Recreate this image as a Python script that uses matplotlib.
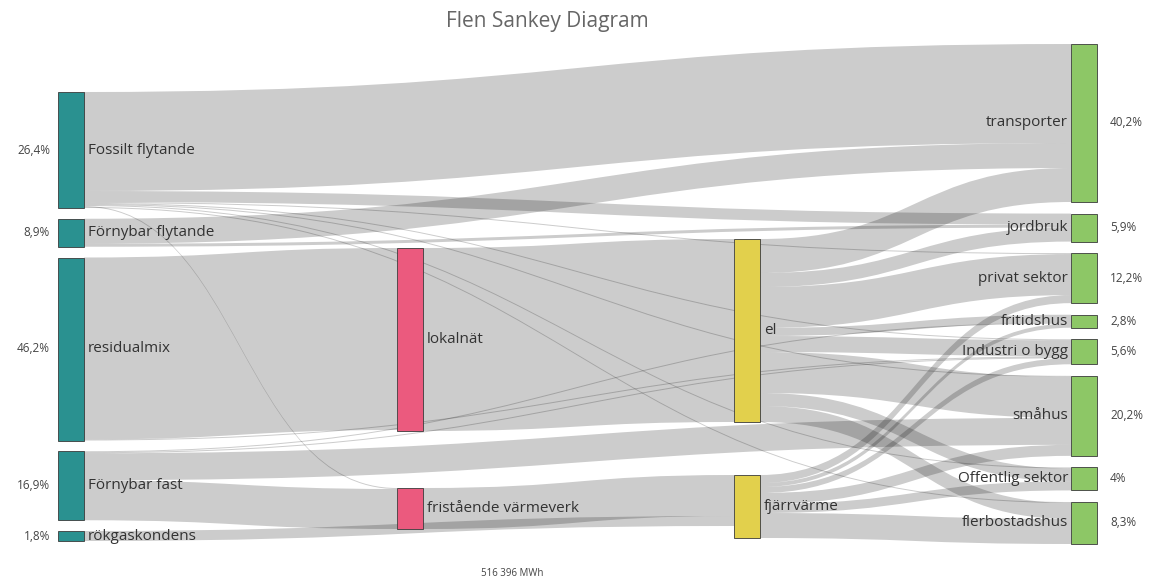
import matplotlib.pyplot as plt
from matplotlib.path import Path
from matplotlib.patches import PathPatch, Rectangle

plt.rcParams['font.family'] = ['Open Sans', 'DejaVu Sans']

# Nodes (name, column)
nodes = ['Fossilt flytande', 'Förnybar flytande', 'residualmix', 'Förnybar fast', 'rökgaskondens',
         'lokalnät', 'fristående värmeverk',
         'el', 'fjärrvärme',
         'transporter', 'jordbruk', 'privat sektor', 'fritidshus', 'Industri o bygg',
         'småhus', 'Offentlig sektor', 'flerbostadshus']
node_col = [0, 0, 0, 0, 0, 1, 1, 2, 2, 3, 3, 3, 3, 3, 3, 3, 3]

# share labels shown next to the outer columns
shares = {'Fossilt flytande': '26,4%', 'Förnybar flytande': '8,9%', 'residualmix': '46,2%',
          'Förnybar fast': '16,9%', 'rökgaskondens': '1,8%',
          'transporter': '40,2%', 'jordbruk': '5,9%', 'privat sektor': '12,2%',
          'fritidshus': '2,8%', 'Industri o bygg': '5,6%', 'småhus': '20,2%',
          'Offentlig sektor': '4%', 'flerbostadshus': '8,3%'}

sources = ['Fossilt flytande'] * 8 + ['Förnybar flytande'] * 2 + ['residualmix'] * 2 + \
          ['Förnybar fast'] * 4 + ['rökgaskondens', 'lokalnät', 'fristående värmeverk'] + \
          ['el'] * 8 + ['fjärrvärme'] * 6
targets = ['transporter', 'jordbruk', 'privat sektor', 'Industri o bygg', 'småhus',
           'Offentlig sektor', 'fristående värmeverk', 'flerbostadshus',
           'transporter', 'jordbruk',
           'lokalnät', 'Industri o bygg',
           'fritidshus', 'Industri o bygg', 'småhus', 'fristående värmeverk',
           'fjärrvärme', 'el', 'fjärrvärme',
           'transporter', 'jordbruk', 'privat sektor', 'fritidshus', 'Industri o bygg',
           'småhus', 'Offentlig sektor', 'flerbostadshus',
           'privat sektor', 'fritidshus', 'Industri o bygg', 'småhus', 'Offentlig sektor',
           'flerbostadshus']
values = [99, 11, 1, 1, 1, 1, 1, 1,
          25, 3,
          182, 1,
          1, 1, 27, 40,
          10, 183, 41,
          34, 14, 41, 8, 16, 41, 13, 16,
          8, 4, 6, 11, 9, 25]

# Colours
col_colors = ['#2A9190', '#EB5A7E', '#E2D04C', '#8DC766']
link_color = (0, 0, 0, 0.2)

# Layout: column x, top and bottom (pixels)
col_x = [58, 397, 734, 1071]
col_top = [92, 248, 239, 44]
col_bot = [541, 529, 538, 544]
node_w = 26

# node sizes = max(in, out)
size_in = {n: 0 for n in nodes}
size_out = {n: 0 for n in nodes}
for s, t, v in zip(sources, targets, values):
    size_out[s] += v
    size_in[t] += v
size = {n: max(size_in[n], size_out[n]) for n in nodes}

# stack nodes inside each column with equal gaps
node_y = {}
for c in range(4):
    members = [n for n, k in zip(nodes, node_col) if k == c]
    total = sum(size[n] for n in members)
    gap = (col_bot[c] - col_top[c] - total) / max(len(members) - 1, 1)
    y = col_top[c]
    for n in members:
        node_y[n] = y
        y += size[n] + gap
node_x = {n: col_x[k] for n, k in zip(nodes, node_col)}
center = {n: node_y[n] + size[n] / 2 for n in nodes}

fig = plt.figure(figsize=(11.49, 5.79), dpi=100)
ax = fig.add_axes([0, 0, 1, 1])
ax.set_xlim(0, 1149)
ax.set_ylim(579, 0)
ax.axis('off')

# link offsets: outgoing ordered by target position, incoming by source position
links = list(zip(sources, targets, values))
y_src = {}
y_tgt = {}
for n in nodes:
    off = node_y[n]
    for i in sorted([i for i, l in enumerate(links) if l[0] == n], key=lambda i: center[links[i][1]]):
        y_src[i] = off
        off += links[i][2]
    off = node_y[n]
    for i in sorted([i for i, l in enumerate(links) if l[1] == n], key=lambda i: center[links[i][0]]):
        y_tgt[i] = off
        off += links[i][2]

for i, (s, t, v) in enumerate(links):
    x0 = node_x[s] + node_w
    x1 = node_x[t]
    xm = (x0 + x1) / 2
    y0, y1 = y_src[i], y_tgt[i]
    verts = [(x0, y0), (xm, y0), (xm, y1), (x1, y1),
             (x1, y1 + v), (xm, y1 + v), (xm, y0 + v), (x0, y0 + v), (x0, y0)]
    codes = [Path.MOVETO, Path.CURVE4, Path.CURVE4, Path.CURVE4,
             Path.LINETO, Path.CURVE4, Path.CURVE4, Path.CURVE4, Path.CLOSEPOLY]
    ax.add_patch(PathPatch(Path(verts, codes), facecolor=link_color, edgecolor='none', zorder=1))

# nodes and labels
for n, c in zip(nodes, node_col):
    ax.add_patch(Rectangle((node_x[n], node_y[n]), node_w, size[n], facecolor=col_colors[c],
                           edgecolor='#3A3A3A', linewidth=0.6, zorder=2))
    if c < 3:
        ax.text(node_x[n] + node_w + 4, center[n], n, ha='left', va='center',
                fontsize=11, color='#333333', zorder=3)
    else:
        ax.text(node_x[n] - 3, center[n], n, ha='right', va='center',
                fontsize=11, color='#333333', zorder=3)
    if n in shares:
        if c == 0:
            ax.text(50, center[n], shares[n], ha='right', va='center', fontsize=8.5, color='#444444')
        else:
            ax.text(1110, center[n], shares[n], ha='left', va='center', fontsize=8.5, color='#444444')

ax.text(547, 22, 'Flen Sankey Diagram', ha='center', va='center', fontsize=15, color='#666666')
ax.text(512, 573, '516 396 MWh', ha='center', va='center', fontsize=7, color='#444444')

fig.savefig('out.png', dpi=100)
